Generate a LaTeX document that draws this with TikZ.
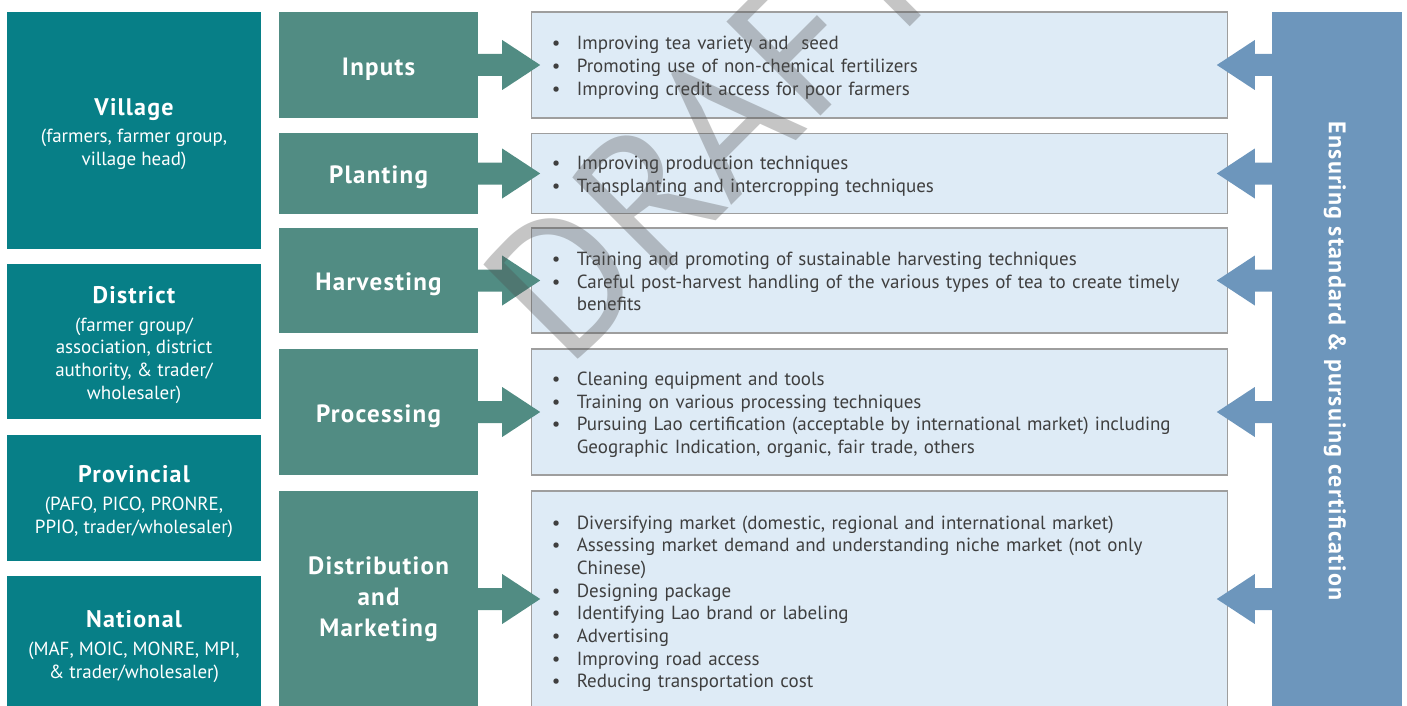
\documentclass[tikz,border=0pt]{standalone}
\usepackage{fontspec}
\setmainfont{PT Sans}[BoldFeatures={LetterSpace=5}]
\newfontfamily\markfont{PT Sans}
\usepackage{xcolor}
\usepackage{tikz}
\usetikzlibrary{positioning}

\definecolor{levelcol}{HTML}{077F87}
\definecolor{stepcol}{HTML}{518C83}
\definecolor{listfill}{HTML}{DEEBF6}
\definecolor{listline}{HTML}{9E9E9E}
\definecolor{stdcol}{HTML}{6D96BC}
\definecolor{listtext}{HTML}{3F3F3F}

% 层级标题 + 说明
\newcommand{\lvl}[2]{{\bfseries\fontsize{24}{28}\selectfont\rule{0pt}{24pt}#1}\\[5pt]#2}
% 项目列表
\newcommand{\items}[2][6pt]{\begin{tabular}{@{}p{25pt}@{}l@{}}\noalign{\vskip #1}#2\end{tabular}}

\begin{document}
\begin{tikzpicture}[x=1pt,y=-1pt,
		level/.style={fill=levelcol,text=white,minimum width=254pt,inner sep=0pt,
			align=center,font=\fontsize{19}{22.7}\selectfont},
		stepbox/.style={fill=stepcol,text=white,minimum width=199pt,inner sep=0pt,
			align=center,font=\bfseries\fontsize{25}{31}\selectfont,
			execute at begin node={\rule{0pt}{26pt}}},
		listbox/.style={fill=listfill,draw=listline,line width=1.2pt,text=listtext,
			minimum width=696pt,text width=656pt,inner xsep=20pt,inner ysep=0pt,
			font=\fontsize{19}{22.7}\selectfont},
		arrow/.style={fill=stepcol},
		stdarrow/.style={fill=stdcol}]
			\useasboundingbox (0,0) rectangle (1407,706);
			% 左侧：各级参与者
			\node[level,minimum height=237pt] (village) at (134,130.5)
				{\lvl{Village}{(farmers, farmer group,\\village head)}};
			\node[level,minimum height=155pt] (district) at (134,341.5)
				{\lvl{District}{(farmer group/\\association, district\\authority, \& trader/\\wholesaler)}};
			\node[level,minimum height=126pt] (provincial) at (134,498)
				{\lvl{Provincial}{(PAFO, PICO, PRONRE,\\PPIO, trader/wholesaler)}};
			\node[level,minimum height=134pt] (national) at (134,643)
				{\lvl{National}{(MAF, MOIC, MONRE, MPI,\\\& trader/wholesaler)}};
			% 中间：价值链环节
			\node[stepbox,minimum height=106pt] (inputs) at (378.5,65) {Inputs};
			\node[stepbox,minimum height=81pt] (planting) at (378.5,173.5) {Planting};
			\node[stepbox,minimum height=105pt] (harvesting) at (378.5,280.5) {Harvesting};
			\node[stepbox,minimum height=126pt] (processing) at (378.5,412) {Processing};
			\node[stepbox,minimum height=216pt] (distribution) at (378.5,599) {Distribution\\and\\Marketing};
			% 各环节的措施
			\node[listbox,minimum height=106pt,right=53pt of inputs] (inputs-b) {\items{%
				\textbullet & Improving tea variety and\ \ seed\\
				\textbullet & Promoting use of non-chemical fertilizers\\
				\textbullet & Improving credit access for poor farmers}};
			\node[listbox,minimum height=80pt,right=53pt of planting] (planting-b) {\items{%
				\textbullet & Improving production techniques\\
				\textbullet & Transplanting and intercropping techniques}};
			\node[listbox,minimum height=105pt,right=53pt of harvesting] (harvesting-b) {\items{%
				\textbullet & Training and promoting of sustainable harvesting techniques\\
				\textbullet & Careful post-harvest handling of the various types of tea to create timely\\
				 & benefits}};
			\node[listbox,minimum height=126pt,right=53pt of processing] (processing-b) {\items{%
				\textbullet & Cleaning equipment and tools\\
				\textbullet & Training on various processing techniques\\
				\textbullet & Pursuing Lao certification (acceptable by international market) including\\
				 & Geographic Indication, organic, fair trade, others}};
			\node[listbox,minimum height=216pt,right=53pt of distribution] (distribution-b) {\items[10pt]{%
				\textbullet & Diversifying market (domestic, regional and international market)\\
				\textbullet & Assessing market demand and understanding niche market (not only\\
				 & Chinese)\\
				\textbullet & Designing package\\
				\textbullet & Identifying Lao brand or labeling\\
				\textbullet & Advertising\\
				\textbullet & Improving road access\\
				\textbullet & Reducing transportation cost}};
			% 右侧：标准与认证
			\node[fill=stdcol,minimum width=130pt,minimum height=694pt,inner sep=0pt] (std) at (1337,359) {};
			\node[rotate=-90,text=white,font=\bfseries\fontsize{24}{28}\selectfont] (std-text) at (1335,361)
				{Ensuring standard \& pursuing certification};
			% 箭头
			\foreach \n in {inputs,planting,harvesting,processing,distribution}{
				\fill[arrow] (\n.east) ++(0,-11) -- ++(24,0) -- ++(0,-14) -- ++(38,25)
					-- ++(-38,25) -- ++(0,-14) -- ++(-24,0) -- cycle;
				\fill[stdarrow] (std.west |- \n-b.east) ++(0,-11) -- ++(-17,0) -- ++(0,-14) -- ++(-38,25)
					-- ++(38,25) -- ++(0,-14) -- ++(17,0) -- cycle;
			}
			% 水印
			\node[rotate=45,anchor=base west,inner sep=0pt,text=black!70,opacity=0.32,
				font=\markfont\fontsize{190}{190}\selectfont] (draft) at (566,371) {DRAFT};
		\end{tikzpicture}
\end{document}
